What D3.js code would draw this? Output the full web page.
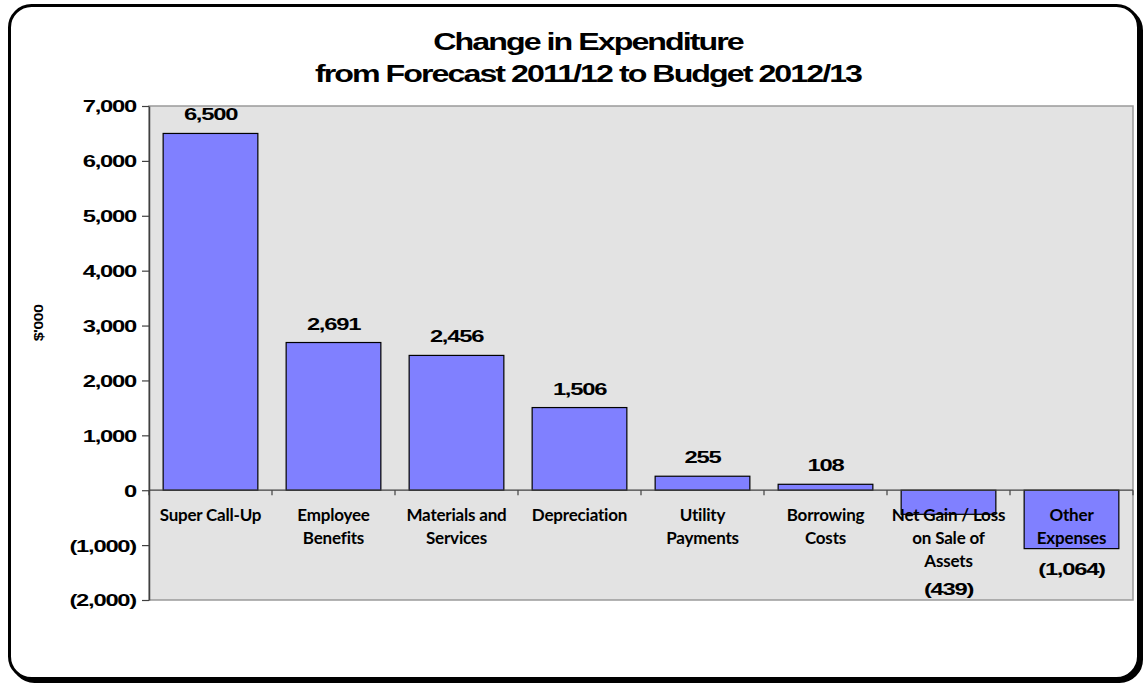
<!DOCTYPE html>
<html>
<head>
<meta charset="utf-8">
<script src="https://cdn.jsdelivr.net/npm/d3@7"></script>
<style>
  html, body { margin: 0; padding: 0; background: #fff; }
  svg { display: block; }
</style>
</head>
<body>
<svg id="chart" width="1146" height="685"></svg>
<script>
// Expenditure change by category, $'000
const categories = [
  "Super Call-Up",
  "Employee\nBenefits",
  "Materials and\nServices",
  "Depreciation",
  "Utility\nPayments",
  "Borrowing\nCosts",
  "Net Gain / Loss\non Sale of\nAssets",
  "Other\nExpenses"
];
const changes = [6500, 2691, 2456, 1506, 255, 108, -439, -1064];
const yTicks = [7000, 6000, 5000, 4000, 3000, 2000, 1000, 0, -1000, -2000];
const titleLines = ["Change in Expenditure", "from Forecast 2011/12 to Budget 2012/13"];
const yAxisTitle = "$'000";

const data = categories.map((c, i) => ({ category: c, value: changes[i] }));

const svg = d3.select("#chart");
const plot = { left: 149, right: 1133, top: 106, bottom: 600 };
const arial = "'Liberation Sans', Arial, Helvetica, sans-serif";
const catFont = "Lato, 'Open Sans', sans-serif";
const SX = 1.4;           // horizontal stretch of the Arial numbers
const LS = -0.9;          // tight tracking of the Arial numbers
const lineH = 23;         // category label line height
const catBase = 521;      // baseline of first category label line

const x = d3.scaleBand()
  .domain(categories)
  .range([plot.left, plot.right])
  .paddingInner(0.23)
  .paddingOuter(0.115);

const y = d3.scaleLinear()
  .domain([-2000, 7000])
  .range([plot.bottom, plot.top]);

const num = d3.format(",");
const fmt = v => v < 0 ? "(" + num(-v) + ")" : num(v);

// Outer frame with drop shadow
svg.append("rect")
  .attr("x", 12.5).attr("y", 8.5)
  .attr("width", 1129).attr("height", 673)
  .attr("rx", 22)
  .attr("fill", "#000").attr("stroke", "#000").attr("stroke-width", 3);
svg.append("rect")
  .attr("x", 9.5).attr("y", 5.5)
  .attr("width", 1129).attr("height", 673)
  .attr("rx", 22)
  .attr("fill", "#fff").attr("stroke", "#000").attr("stroke-width", 3);

// Plot area
svg.append("rect")
  .attr("x", plot.left).attr("y", plot.top)
  .attr("width", plot.right - plot.left).attr("height", plot.bottom - plot.top)
  .attr("fill", "#e3e3e3")
  .attr("stroke", "#9a9a9a").attr("stroke-width", 1.5);

// Title
svg.append("g")
  .selectAll("text")
  .data(titleLines)
  .join("text")
  .attr("transform", (d, i) => `translate(588,${50 + i * 32}) scale(1.4,1)`)
  .attr("text-anchor", "middle")
  .attr("font-family", arial)
  .attr("font-weight", "bold")
  .attr("font-size", 23)
  .attr("letter-spacing", -1.4)
  .attr("fill", "#000")
  .text(d => d);

// Y axis
const yAxis = svg.append("g")
  .attr("transform", `translate(${plot.left},0)`)
  .call(d3.axisLeft(y).tickValues(yTicks).tickSize(7).tickSizeOuter(0).tickFormat(fmt));
yAxis.select(".domain").attr("stroke", "#404040").attr("stroke-width", 1.5);
yAxis.selectAll(".tick line").attr("stroke", "#404040").attr("stroke-width", 1.2);
yAxis.selectAll(".tick text")
  .attr("x", -13 / SX)
  .attr("dy", "0.35em")
  .attr("transform", `scale(${SX},1)`)
  .attr("font-family", arial)
  .attr("font-weight", "bold")
  .attr("font-size", 17)
  .attr("letter-spacing", LS)
  .attr("fill", "#000");

// Y axis title
svg.append("text")
  .attr("transform", `translate(43,323) rotate(-90) scale(1.3,1)`)
  .attr("text-anchor", "middle")
  .attr("font-family", arial)
  .attr("font-weight", "bold")
  .attr("font-size", 12.5)
  .attr("letter-spacing", -0.5)
  .attr("fill", "#000")
  .text(yAxisTitle);

// Category labels
const half = x.step() * x.paddingInner() / 2;
const catG = svg.append("g");
data.forEach(d => {
  const lines = d.category.split("\n");
  const t = catG.append("text")
    .attr("text-anchor", "middle")
    .attr("font-family", catFont)
    .attr("font-weight", "bold")
    .attr("font-size", 17)
    .attr("letter-spacing", -0.2)
    .attr("fill", "#000");
  lines.forEach((ln, i) => {
    t.append("tspan")
      .attr("x", x(d.category) + x.bandwidth() / 2)
      .attr("y", catBase + i * lineH)
      .text(ln);
  });
});

// Bars
svg.append("g")
  .selectAll("rect")
  .data(data)
  .join("rect")
  .attr("x", d => x(d.category))
  .attr("y", d => y(Math.max(0, d.value)))
  .attr("width", x.bandwidth())
  .attr("height", d => Math.abs(y(d.value) - y(0)))
  .attr("fill", "#8080ff")
  .attr("stroke", "#000")
  .attr("stroke-width", 1.2);

// Category label text sits on top of the bar fills
catG.raise();

// Zero axis with ticks at category boundaries
const bounds = categories.map(c => x(c) - half).concat([plot.right]);
const xAxis = svg.append("g");
xAxis.append("line")
  .attr("x1", plot.left).attr("x2", plot.right)
  .attr("y1", y(0)).attr("y2", y(0))
  .attr("stroke", "#404040").attr("stroke-width", 1.2);
xAxis.selectAll("line.tk")
  .data(bounds)
  .join("line")
  .attr("class", "tk")
  .attr("x1", d => d).attr("x2", d => d)
  .attr("y1", y(0)).attr("y2", y(0) + 5)
  .attr("stroke", "#404040").attr("stroke-width", 1.2);

// Value labels
svg.append("g")
  .selectAll("text")
  .data(data)
  .join("text")
  .attr("transform", d => {
    const cx = x(d.category) + x.bandwidth() / 2;
    const nLines = d.category.split("\n").length;
    const by = d.value >= 0
      ? y(d.value) - 13
      : Math.max(y(d.value) + 26, catBase + (nLines - 1) * lineH + 28);
    return `translate(${cx},${by}) scale(${SX},1)`;
  })
  .attr("text-anchor", "middle")
  .attr("font-family", arial)
  .attr("font-weight", "bold")
  .attr("font-size", 17)
  .attr("letter-spacing", LS)
  .attr("fill", "#000")
  .text(d => fmt(d.value));
</script>
</body>
</html>
